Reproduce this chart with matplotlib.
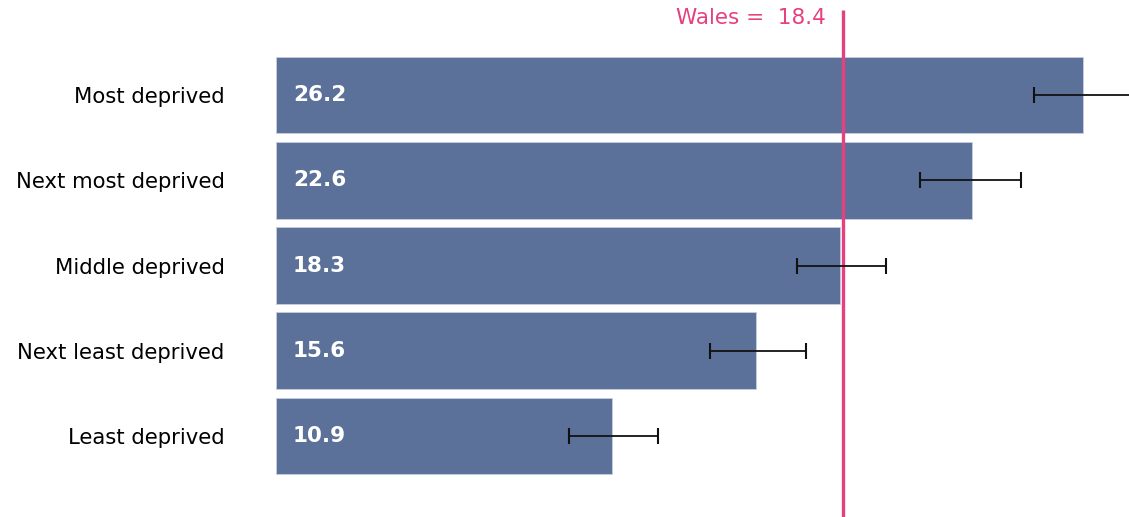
import matplotlib
matplotlib.use("Agg")
import matplotlib.pyplot as plt

categories = ["Most deprived", "Next most deprived", "Middle deprived",
              "Next least deprived", "Least deprived"]
values = [26.2, 22.6, 18.3, 15.6, 10.9]
lower_ci = [24.6, 20.9, 16.9, 14.1, 9.5]
upper_ci = [27.8, 24.2, 19.8, 17.2, 12.4]
wales_value = 18.4
wales_label = "Wales =  18.4"

plt.rcParams['font.family'] = ['DejaVu Sans']

W, H = 1129, 517
fig = plt.figure(figsize=(W / 100, H / 100), dpi=100)
x0_px = 276
px_per_unit = 30.8
ax = fig.add_axes([x0_px / W, 0, 1 - x0_px / W, 1])

pitch = 85.25
top_idx = -95 / pitch
bot_idx = 4 + (H - 436) / pitch

pos = list(range(len(categories)))
bar_color = "#5B7199"
ax.barh(pos, values, height=0.9, color=bar_color, edgecolor="#c8d0de", linewidth=0.6, zorder=1)

xerr = [[v - l for v, l in zip(values, lower_ci)], [u - v for v, u in zip(values, upper_ci)]]
ax.errorbar(values, pos, xerr=xerr, fmt="none", ecolor="#111111", elinewidth=1.3,
            capsize=6, capthick=1.5, zorder=3)

for p, v in zip(pos, values):
    ax.text(0.55, p, f"{v}", color="white", fontweight="bold", fontsize=15.5,
            va="center", ha="left", zorder=4)

pink = "#E5407F"
ax.vlines(wales_value, top_idx + 10 / pitch, bot_idx, color=pink, linewidth=2.4, zorder=2)
ax.text(17.85, top_idx + 18 / pitch, wales_label, color=pink, fontsize=15.5,
        ha="right", va="center")

ax.set_xlim(0, (W - x0_px) / px_per_unit)
ax.set_ylim(bot_idx, top_idx)
ax.set_yticks(pos)
ax.set_yticklabels(categories, fontsize=15.2)
ax.tick_params(axis="y", length=0, pad=37)
ax.set_xticks([])
for s in ax.spines.values():
    s.set_visible(False)
ax.patch.set_alpha(0)

fig.savefig("out.png", dpi=100)
